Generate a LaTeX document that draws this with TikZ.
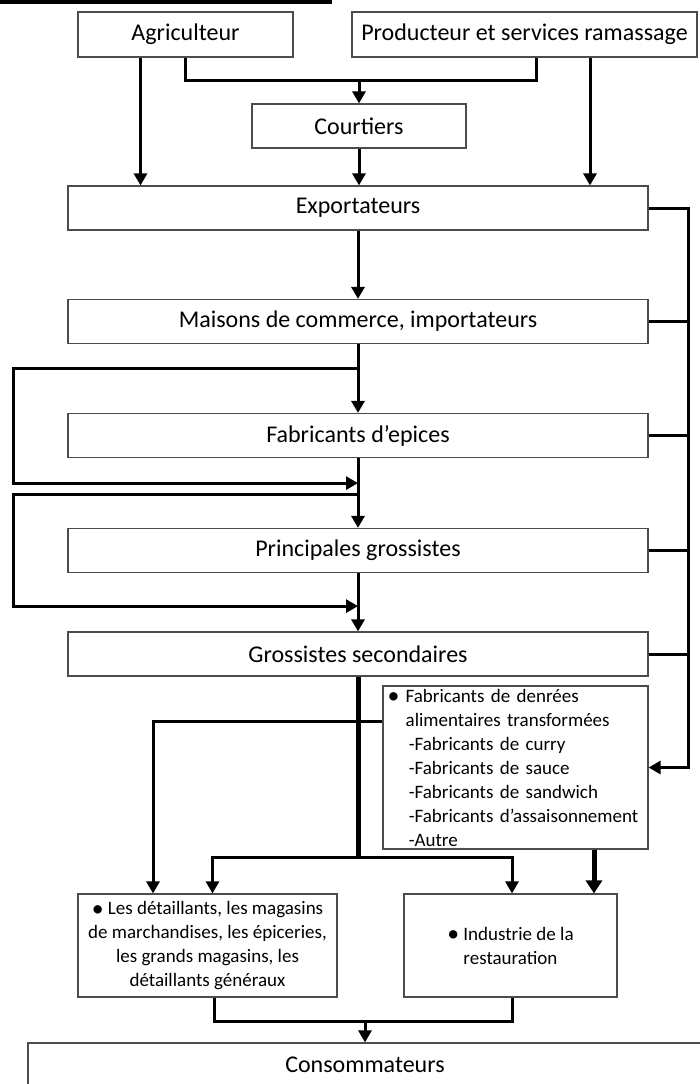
\documentclass[tikz,border=0pt]{standalone}
\usepackage{fontspec}
\setmainfont{Carlito}
\usetikzlibrary{arrows.meta,calc}

\newcommand{\bigbul}{\raisebox{-0.2ex}{\scalebox{1.25}{\textbullet}}}

\begin{document}
\begin{tikzpicture}[x=0.5pt, y=-0.5pt]

\tikzset{flowbox/.style={draw=black!70, line width=0.6pt, rectangle, inner sep=0pt, minimum height=22pt, font=\fontsize{12}{14}\selectfont}}
\tikzset{listbox/.style={flowbox, font=\fontsize{9.5}{12}\selectfont}}
\tikzset{flowline/.style={line width=1.5pt}}
\tikzset{flowarrow/.style={flowline, -{Triangle[length=6pt, width=6.5pt]}}}

\useasboundingbox (0,0) rectangle (700,1084);

% cut title underline
\draw[line width=2pt] (0,2) -- (332,2);

% sources
\node[flowbox, minimum width=107.5pt, minimum height=22.5pt] at (185.5, 34.5) (agr) {Agriculteur};
\node[flowbox, minimum width=172.5pt, minimum height=22.5pt] at (524.5, 34.5) (prod) {Producteur et services ramassage};
\node[flowbox, minimum width=107pt] at (359, 126) (court) {Courtiers};

% main chain
\node[flowbox, minimum width=290pt] at (358, 208) (exp) {Exportateurs};
\node[flowbox, minimum width=290pt] at (358, 321.5) (mais) {Maisons de commerce, importateurs};
\node[flowbox, minimum width=290pt] at (358, 435.5) (fab) {Fabricants d’epices};
\node[flowbox, minimum width=290pt] at (358, 550.5) (princ) {Principales grossistes};
\node[flowbox, minimum width=290pt] at (358, 654) (gros) {Grossistes secondaires};

% processors, retail, consumers
\node[listbox, minimum width=132.5pt, minimum height=81.5pt, text width=128pt, align=left] at (515.5, 767.5) (denr)
  {\bigbul\ Fabricants de denrées\\
   \hphantom{\bigbul\ }alimentaires transformées\\
   \hphantom{\bigbul\ }\,-Fabricants de curry\\
   \hphantom{\bigbul\ }\,-Fabricants de sauce\\
   \hphantom{\bigbul\ }\,-Fabricants de sandwich\\
   \hphantom{\bigbul\ }\,-Fabricants d’assaisonnement\\
   \hphantom{\bigbul\ }\,-Autre};
\node[listbox, minimum width=129.5pt, minimum height=51.5pt, align=center] at (207.5, 945.5) (detail)
  {\bigbul\ Les détaillants, les magasins\\ de marchandises, les épiceries,\\ les grands magasins, les\\ détaillants généraux};
\node[listbox, minimum width=106.5pt, minimum height=51.5pt, align=left] at (510.5, 945.5) (resto)
  {\bigbul\ Industrie de la\\ \hphantom{\bigbul\ }restauration};
\node[flowbox, minimum width=337pt] at (365, 1065) (conso) {Consommateurs};

% collection
\draw[flowarrow] ([xshift=-22.5pt]agr.south) -- ([xshift=-22.5pt]agr.south |- exp.north);
\draw[flowarrow] ([xshift=32.75pt]prod.south) -- ([xshift=32.75pt]prod.south |- exp.north);
\coordinate (jct) at ($(agr.south)+(0,23)$);
\draw[flowline] (agr.south) |- ([xshift=6pt]prod.south |- jct) -- ([xshift=6pt]prod.south);
\draw[flowarrow] (court.north |- jct) -- (court.north);
\draw[flowarrow] (court.south) -- (court.south |- exp.north);

% main chain with bypass loops
\draw[flowarrow] (exp) -- (mais);
\draw[flowarrow] (mais) -- (fab);
\draw[flowarrow] (fab) -- (princ);
\draw[flowarrow] (princ) -- (gros);
\draw[flowarrow] (mais.south) ++(0,24) -- ++(-345,0) |- ($(fab.south)+(0,25)$);
\draw[flowarrow] (fab.south) ++(0,36) -- ++(-345,0) |- ($(princ.south)+(0,33)$);

% right bus to processors
\draw[flowarrow] (exp.east) -- ++(40,0) coordinate (bus) |- (denr.east);
\foreach \n in {mais, fab, princ, gros}
  \draw[flowline] (\n.east) -- (\n.east -| bus);

% distribution
\draw[line width=2.5pt] (gros.south) -- ++(0,181) coordinate (split);
\draw[flowarrow] (split) -| ([xshift=2.5pt]detail.north);
\draw[flowarrow] (split) -| ([xshift=0.75pt]resto.north);
\draw[flowarrow] ([yshift=-18pt]denr.north west) -| ([xshift=-27.25pt]detail.north);
\draw[line width=2.5pt, -{Triangle[length=6.5pt, width=8pt]}] ([xshift=39.25pt]denr.south) -- ([xshift=39.25pt]denr.south |- resto.north);

% to consumers
\draw[flowline] ([xshift=3.25pt]detail.south) -- ++(0,24) coordinate (merge) -| ([xshift=0.75pt]resto.south);
\draw[flowarrow] (conso.north |- merge) -- (conso.north);

\end{tikzpicture}
\end{document}
